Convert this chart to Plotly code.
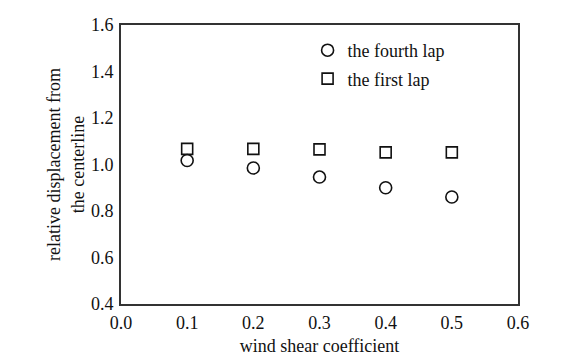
import plotly.graph_objects as go

wind_shear = [0.1, 0.2, 0.3, 0.4, 0.5]
fourth_lap = [1.017, 0.985, 0.946, 0.900, 0.860]
first_lap = [1.067, 1.067, 1.065, 1.052, 1.052]

x_ticks = [0.0, 0.1, 0.2, 0.3, 0.4, 0.5, 0.6]
y_ticks = [0.4, 0.6, 0.8, 1.0, 1.2, 1.4, 1.6]

font_family = "Liberation Serif, Times New Roman, serif"
FS = 18

fig = go.Figure()
fig.add_trace(go.Scatter(
    x=wind_shear, y=fourth_lap, mode="markers", name="the fourth lap",
    legendgroup="a",
    marker=dict(symbol="circle-open", size=12, color="#111",
                line=dict(width=1.6, color="#111")),
))
fig.add_trace(go.Scatter(
    x=wind_shear, y=first_lap, mode="markers", name="the first lap",
    legendgroup="b",
    marker=dict(symbol="square-open", size=11, color="#111",
                line=dict(width=1.6, color="#111")),
))

axis_common = dict(
    showgrid=False, zeroline=False, showline=True, mirror=True,
    linecolor="#333", linewidth=2, ticks="outside",
    tickcolor="rgba(0,0,0,0)", automargin=False,
    tickfont=dict(family=font_family, size=FS, color="#111"),
)

fig.update_layout(
    width=565, height=352,
    margin=dict(l=113, r=55, t=17, b=56),
    paper_bgcolor="white", plot_bgcolor="white",
    font=dict(family=font_family, size=FS, color="#111"),
    xaxis=dict(range=[0, 0.6], tickvals=x_ticks, tickformat=".1f",
               ticklen=1,
               title=dict(text="wind shear coefficient", standoff=8,
                          font=dict(family=font_family, size=FS)),
               **axis_common),
    yaxis=dict(range=[0.4, 1.6], tickvals=y_ticks, tickformat=".1f",
               ticklen=2,
               title=dict(text="relative displacement from<br>the centerline",
                          standoff=2,
                          font=dict(family=font_family, size=FS)),
               **axis_common),
    legend=dict(x=0.47, y=0.975, xanchor="left", yanchor="top",
                bgcolor="rgba(0,0,0,0)", tracegroupgap=2,
                traceorder="grouped", itemwidth=30,
                font=dict(family=font_family, size=FS, color="#111")),
    showlegend=True,
)

fig.write_html("out.html")
